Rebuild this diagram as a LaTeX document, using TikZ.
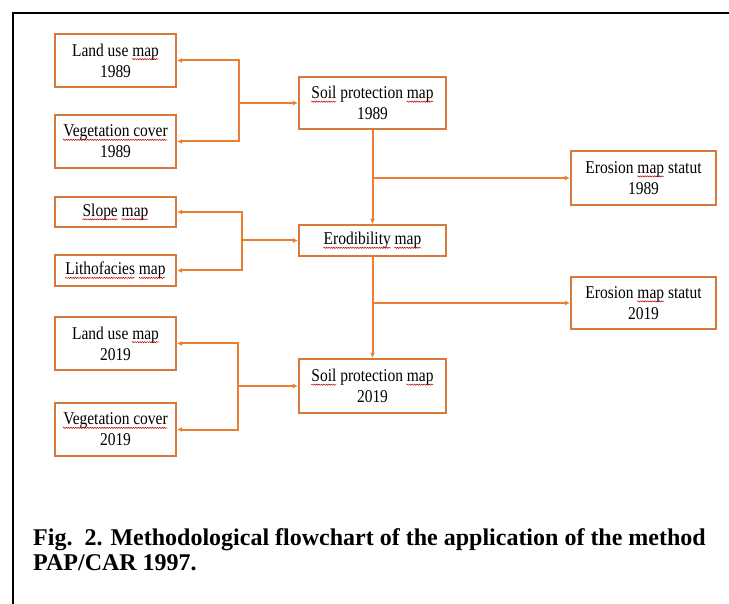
\documentclass[tikz,border=0pt]{standalone}
\usepackage{fontspec}
\usetikzlibrary{arrows.meta,decorations.pathmorphing}
\newfontfamily\boxfont[FakeStretch=0.86]{Liberation Serif}
\newfontfamily\capfont{Liberation Serif}
\definecolor{lineor}{RGB}{237,125,49}
\definecolor{boxor}{RGB}{214,122,60}
\newsavebox\sqbox
\newcommand\sq[1]{\sbox\sqbox{#1}\usebox\sqbox\llap{\tikz[baseline=0pt,x=1pt,y=1pt]\draw[red!75!black, line width=0.5pt, decorate, decoration={snake, amplitude=0.6pt, segment length=2.4pt}] (0pt,-3pt) -- (\the\wd\sqbox,-3pt);}}
\tikzset{
  mapbox/.style={draw=boxor, line width=2.3pt, minimum width=121pt, align=center,
    font=\boxfont\fontsize{18}{21}\selectfont, inner sep=0pt},
  midbox/.style={mapbox, minimum width=147pt},
  outbox/.style={mapbox, minimum width=145pt},
  arr/.style={draw=lineor, line width=2pt, -{Latex[length=5pt,width=5pt]}},
  capline/.style={anchor=base west, inner sep=0pt, font=\capfont\bfseries\fontsize{24}{25}\selectfont}
}
\begin{document}
\begin{tikzpicture}[x=1pt,y=-1pt]
\useasboundingbox (0,0) rectangle (729,604);
\fill[white] (0,0) rectangle (729,604);
\draw[line width=2.2pt] (13,604) -- (13,13) -- (729,13);

\node[mapbox, minimum height=53pt] (lu89) at (115.5,60.5) {Land use \sq{map}\\1989};
\node[mapbox, minimum height=53pt] (vc89) at (115.5,141.5) {\sq{Vegetation cover}\\1989};
\node[mapbox, minimum height=30pt] (slope) at (115.5,212) {\sq{Slope} \sq{map}};
\node[mapbox, minimum height=31pt] (litho) at (115.5,270.5) {\sq{Lithofacies} \sq{map}};
\node[mapbox, minimum height=53pt] (lu19) at (115.5,343.5) {Land use \sq{map}\\2019};
\node[mapbox, minimum height=53pt] (vc19) at (115.5,429.5) {\sq{Vegetation cover}\\2019};

\node[midbox, minimum height=52pt] (sp89) at (372.5,103) {\sq{Soil} protection \sq{map}\\1989};
\node[midbox, minimum height=31pt] (erod) at (372.5,240.5) {\sq{Erodibility} \sq{map}};
\node[midbox, minimum height=54pt] (sp19) at (372.5,386) {\sq{Soil} protection \sq{map}\\2019};

\node[outbox, minimum height=54pt] (em89) at (643.5,178) {Erosion \sq{map} statut\\1989};
\node[outbox, minimum height=52pt] (em19) at (643.5,303) {Erosion \sq{map} statut\\2019};

\coordinate (b1) at (239,103);
\coordinate (b2) at (242,240.5);
\coordinate (b3) at (238,386);
\draw[arr] (b1) |- (lu89.east);
\draw[arr] (b1) |- (vc89.east);
\draw[arr] (b1) -- (sp89.west);
\draw[arr] (b2) |- (slope.east);
\draw[arr] (b2) |- (litho.east);
\draw[arr] (b2) -- (erod.west);
\draw[arr] (b3) |- (lu19.east);
\draw[arr] (b3) |- (vc19.east);
\draw[arr] (b3) -- (sp19.west);

\draw[arr] (sp89.south) -- (erod.north);
\coordinate (v1) at (sp89.south |- em89.west);
\draw[arr] (v1) -- (em89.west);
\draw[arr] (erod.south) -- (sp19.north);
\coordinate (v2) at (erod.south |- em19.west);
\draw[arr] (v2) -- (em19.west);

\node[capline] (cap1) at (33,545) {Fig.\ \ 2. Methodological flowchart of the application of the method};
\node[capline] (cap2) at (33,570) {PAP/CAR 1997.};
\end{tikzpicture}
\end{document}
